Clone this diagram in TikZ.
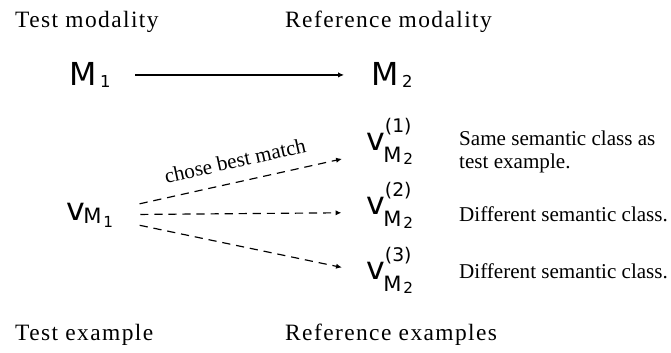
\documentclass[tikz,border=0pt]{standalone}
\usepackage{fontspec}
\setmainfont{Liberation Serif}
\newfontfamily\dvsans{DejaVu Sans}
\newfontfamily\spacedserif[LetterSpace=6]{Liberation Serif}
\usepackage{tikz}
\usetikzlibrary{arrows.meta}

% M with index, v with index, v with index and upper index
\newcommand{\modsym}[2]{{\dvsans\fontsize{27}{30}\selectfont #1\kern3pt\raisebox{-2.5pt}{\fontsize{14}{16}\selectfont #2}}}
\newcommand{\vsub}[2]{{\dvsans\fontsize{27}{30}\selectfont v\kern-1.3pt\raisebox{-3pt}{\fontsize{18}{20}\selectfont #1\kern1.5pt\raisebox{-3pt}{\fontsize{13}{14}\selectfont #2}}}}
\newcommand{\vsubsup}[3]{{\dvsans\fontsize{27}{30}\selectfont v\smash{\rlap{\raisebox{15pt}{\fontsize{16}{18}\selectfont #3}}}\kern-1.3pt\raisebox{-11pt}{\fontsize{18}{20}\selectfont #1\kern1.5pt\raisebox{-1pt}{\fontsize{13}{14}\selectfont #2}}}}

\tikzset{
    heading/.style={anchor=base west, inner sep=0pt, font=\spacedserif\fontsize{20}{22}\selectfont},
    symb/.style={anchor=base west, inner sep=0pt},
    note/.style={anchor=west, inner sep=0pt, align=left, font=\fontsize{18}{19.5}\selectfont},
    tip/.style={-{Latex[length=5pt,width=4.5pt]}, line width=1pt},
    dash line/.style={dash pattern=on 7pt off 5pt}
}

\begin{document}
\begin{tikzpicture}[x=0.03cm,y=-0.03cm]
        \useasboundingbox (0,0) rectangle (671,352);
        % Define nodes
        \node[heading] (TM) at (15,27) {Test modality};
        \node[heading] (RM) at (285,27) {Reference modality};
        
        \node[symb] (M1) at (69,85) {\modsym{M}{1}};
        \node[symb] (M2) at (371,85) {\modsym{M}{2}};
        
        \node[symb] (VM1) at (66,220) {\vsub{M}{1}};
        \node[symb] (V1) at (366,150) {\vsubsup{M}{2}{(1)}};
        \node[symb] (V2) at (366,214) {\vsubsup{M}{2}{(2)}};
        \node[symb] (V3) at (366,279) {\vsubsup{M}{2}{(3)}};
        
        \node[note] (N1) at (459,152) {Same semantic class as\\test example.};
        \node[note] (N2) at (459,214) {Different semantic class.};
        \node[note] (N3) at (459,271) {Different semantic class.};
        
        \node[heading] (TE) at (15,340) {Test example};
        \node[heading] (RE) at (285,340) {Reference examples};
        
        % Draw edges
        \draw[tip, shorten <=21pt, shorten >=23pt] (M1) -- (M2);
        
        \draw[tip, dash line, shorten <=23pt, shorten >=21pt] (VM1) -- node[midway, sloped, above=8pt, font=\fontsize{18}{20}\selectfont] {chose best match} (V1);
        \foreach \i in {2,3}
            \draw[tip, dash line, shorten <=23pt, shorten >=21pt] (VM1) -- (V\i);
    \end{tikzpicture}
\end{document}
